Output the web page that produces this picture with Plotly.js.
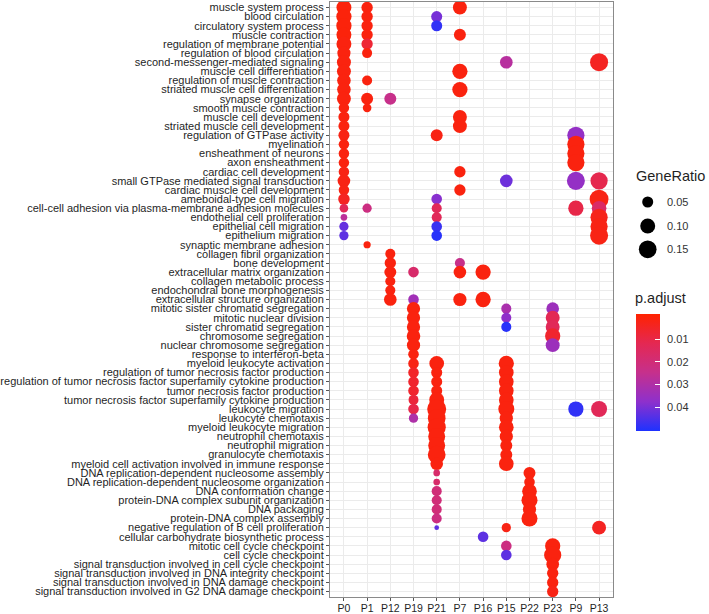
<!DOCTYPE html>
<html><head><meta charset="utf-8">
<script src="https://cdn.plot.ly/plotly-3.0.1.min.js"></script>
<style>html,body{margin:0;padding:0;background:#fff}#chart{width:709px;height:614px}</style>
</head><body><div id="chart"></div>
<script>
const terms = [
"muscle system process","blood circulation","circulatory system process","muscle contraction",
"regulation of membrane potential","regulation of blood circulation","second-messenger-mediated signaling",
"muscle cell differentiation","regulation of muscle contraction","striated muscle cell differentiation",
"synapse organization","smooth muscle contraction","muscle cell development","striated muscle cell development",
"regulation of GTPase activity","myelination","ensheathment of neurons","axon ensheathment",
"cardiac cell development","small GTPase mediated signal transduction","cardiac muscle cell development",
"ameboidal-type cell migration","cell-cell adhesion via plasma-membrane adhesion molecules",
"endothelial cell proliferation","epithelial cell migration","epithelium migration",
"synaptic membrane adhesion","collagen fibril organization","bone development",
"extracellular matrix organization","collagen metabolic process","endochondral bone morphogenesis",
"extracellular structure organization","mitotic sister chromatid segregation","mitotic nuclear division",
"sister chromatid segregation","chromosome segregation","nuclear chromosome segregation",
"response to interferon-beta","myeloid leukocyte activation","regulation of tumor necrosis factor production",
"regulation of tumor necrosis factor superfamily cytokine production","tumor necrosis factor production",
"tumor necrosis factor superfamily cytokine production","leukocyte migration","leukocyte chemotaxis",
"myeloid leukocyte migration","neutrophil chemotaxis","neutrophil migration","granulocyte chemotaxis",
"myeloid cell activation involved in immune response","DNA replication-dependent nucleosome assembly",
"DNA replication-dependent nucleosome organization","DNA conformation change",
"protein-DNA complex subunit organization","DNA packaging","protein-DNA complex assembly",
"negative regulation of B cell proliferation","cellular carbohydrate biosynthetic process",
"mitotic cell cycle checkpoint","cell cycle checkpoint",
"signal transduction involved in cell cycle checkpoint",
"signal transduction involved in DNA integrity checkpoint",
"signal transduction involved in DNA damage checkpoint",
"signal transduction involved in G2 DNA damage checkpoint"
];
const clusters = ["P0","P1","P12","P19","P21","P7","P16","P15","P22","P23","P9","P13"];
const legendRatios = [0.05, 0.10, 0.15];
const padjTicks = [0.01, 0.02, 0.03, 0.04];

// one entry per dot: cluster, term row (1-based), GeneRatio, p.adjust
const dotCluster = [
"P0","P0","P0","P0","P0","P0","P0","P0","P0","P0","P0","P0","P0","P0","P0","P0","P0","P0","P0","P0","P0","P0","P0","P0","P0","P0",
"P1","P1","P1","P1","P1","P1","P1","P1","P1","P1","P1",
"P12","P12","P12","P12","P12","P12","P12",
"P19","P19","P19","P19","P19","P19","P19","P19","P19","P19","P19","P19","P19","P19","P19",
"P21","P21","P21","P21","P21","P21","P21","P21","P21","P21","P21","P21","P21","P21","P21","P21","P21","P21","P21","P21","P21","P21","P21","P21","P21","P21","P21",
"P7","P7","P7","P7","P7","P7","P7","P7","P7","P7","P7",
"P16","P16","P16",
"P15","P15","P15","P15","P15","P15","P15","P15","P15","P15","P15","P15","P15","P15","P15","P15","P15","P15","P15","P15",
"P22","P22","P22","P22","P22","P22",
"P23","P23","P23","P23","P23","P23","P23","P23","P23","P23","P23",
"P9","P9","P9","P9","P9","P9","P9",
"P13","P13","P13","P13","P13","P13","P13","P13","P13"
];
const dotRow = [
1,2,3,4,5,6,7,8,9,10,11,12,13,14,15,16,17,18,19,20,21,22,23,24,25,26,
1,2,3,4,5,6,9,11,12,23,27,
11,28,29,30,31,32,33,
30,33,34,35,36,37,38,39,40,41,42,43,44,45,46,
2,3,15,22,23,24,25,26,40,41,42,43,44,45,46,47,48,49,50,51,52,53,54,55,56,57,58,
1,4,8,10,13,14,19,21,29,30,33,
30,33,59,
7,20,34,35,36,40,41,42,43,44,45,46,47,48,49,50,51,58,60,61,
52,53,54,55,56,57,
34,35,36,37,38,60,61,62,63,64,65,
15,16,17,18,20,23,45,
7,20,22,23,24,25,26,45,58
];
const dotRatio = [
.10,.105,.105,.10,.10,.075,.085,.085,.08,.08,.085,.045,.05,.05,.05,.045,.045,.045,.045,.068,.045,.055,.031,.022,.035,.035,
.053,.053,.053,.053,.053,.041,.041,.06,.031,.035,.024,
.06,.041,.053,.06,.041,.041,.068,
.046,.046,.075,.075,.075,.08,.075,.046,.046,.046,.046,.046,.04,.046,.035,
.05,.05,.06,.046,.041,.041,.046,.046,.096,.05,.05,.05,.10,.177,.15,.16,.135,.135,.15,.068,.022,.022,.041,.041,.041,.041,.019,
.085,.06,.105,.105,.085,.085,.053,.053,.041,.068,.075,
.105,.105,.046,
.068,.068,.041,.041,.041,.105,.096,.096,.096,.096,.118,.075,.096,.075,.06,.06,.096,.035,.046,.046,
.06,.046,.096,.118,.075,.118,
.068,.085,.085,.105,.085,.105,.14,.068,.053,.053,.053,
.14,.14,.14,.14,.156,.105,.105,
.156,.14,.175,.096,.14,.14,.156,.118,.085
];
const dotPadj = [
.0005,.0005,.0005,.0005,.001,.001,.001,.001,.001,.001,.001,.001,.001,.001,.002,.001,.001,.001,.002,.002,.002,.004,.013,.027,.042,.043,
.001,.001,.001,.001,.007,.001,.001,.001,.001,.022,.001,
.024,.001,.001,.001,.001,.001,.001,
.017,.033,.001,.001,.001,.001,.001,.001,.002,.005,.006,.006,.008,.01,.03,
.040,.048,.002,.038,.013,.013,.047,.049,.001,.001,.001,.001,.001,.001,.001,.001,.001,.001,.001,.001,.017,.017,.02,.02,.02,.022,.043,
.001,.001,.001,.001,.001,.001,.001,.001,.024,.001,.001,
.001,.001,.043,
.028,.041,.031,.037,.049,.001,.001,.001,.001,.001,.001,.001,.001,.001,.001,.001,.001,.002,.022,.043,
.001,.001,.001,.001,.001,.001,
.034,.012,.013,.006,.034,.001,.001,.001,.001,.001,.002,
.036,.001,.001,.001,.036,.01,.048,
.004,.011,.002,.016,.003,.002,.002,.013,.004
];

// ---- styling / scales ----
const RMIN = 0.019, RMAX = 0.177, DMIN = 4.7, DMAX = 19;
function dia(v){ return DMIN + (DMAX-DMIN)*Math.sqrt(Math.max(0,(v-RMIN)/(RMAX-RMIN))); }
const PLO = -0.0013, PHI = 0.0502;
const cscale = [[0,'#1E32FF'],[0.25,'#8E30CC'],[0.5,'#C6308C'],[0.75,'#E42852'],[1,'#FF2200']];
const FONT = 'Liberation Sans, Arial, sans-serif';
const TXT = '#1f1f1f';

// legend axis in pixel-like units
const L = {x0: 614.25, x1: 709, y0: 597, y1: 2};
const legendDotX = 647.7, legendDotY = [202, 226, 249.3];

const main = {
  type: 'scatter', mode: 'markers',
  x: dotCluster, y: dotRow.map(r => terms[r-1]),
  hoverinfo: 'skip',
  marker: {
    size: dotRatio.map(dia), opacity: 1, line: {width: 0},
    color: dotPadj.map(p => -p), cmin: -PHI, cmax: -PLO, colorscale: cscale,
    showscale: true,
    colorbar: {
      x: (635.7-330)/379, xanchor: 'left', xpad: 0, ypad: 0,
      y: (597-372)/595, yanchor: 'middle',
      len: 117.4, lenmode: 'pixels', thickness: 23.6, thicknessmode: 'pixels',
      outlinewidth: 0, ticks: 'inside', ticklen: 5, tickcolor: '#ffffff', tickwidth: 1,
      tickvals: padjTicks.map(v => -v), ticktext: padjTicks.map(v => '\u2009\u2009' + v.toFixed(2)),
      tickfont: {family: FONT, size: 11, color: '#333'},
      title: {text: ''}
    }
  }
};
const legendTrace = {
  type: 'scatter', mode: 'markers', xaxis: 'x2', yaxis: 'y2', hoverinfo: 'skip',
  x: legendRatios.map(() => legendDotX), y: legendDotY,
  marker: {size: legendRatios.map(dia), color: '#000000', opacity: 1, line: {width: 0}}
};

const annotations = [
  {xref: 'x2', yref: 'y2', x: 633.5, y: 176, text: 'GeneRatio', showarrow: false, xanchor: 'left', yanchor: 'middle', font: {family: FONT, size: 14.5, color: TXT}},
  {xref: 'x2', yref: 'y2', x: 632.5, y: 298, text: 'p.adjust', showarrow: false, xanchor: 'left', yanchor: 'middle', font: {family: FONT, size: 14.5, color: TXT}}
].concat(legendRatios.map((v, i) => ({
  xref: 'x2', yref: 'y2', x: 664.5, y: legendDotY[i], text: v.toFixed(2), showarrow: false,
  xanchor: 'left', yanchor: 'middle', font: {family: FONT, size: 11, color: '#333'}
})));

const layout = {
  width: 709, height: 614, autosize: false,
  margin: {l: 330, r: 0, t: 2, b: 17, pad: 0},
  paper_bgcolor: '#ffffff', plot_bgcolor: '#ffffff',
  showlegend: false,
  font: {family: FONT, color: TXT},
  xaxis: {
    type: 'category', categoryorder: 'array', categoryarray: clusters,
    tickmode: 'array', tickvals: clusters, ticktext: clusters,
    range: [-0.6, clusters.length - 0.4], domain: [0, 283/379],
    showgrid: true, gridcolor: '#EBEBEB', gridwidth: 1, zeroline: false,
    showline: true, mirror: true, linecolor: '#8a8a8a', linewidth: 1,
    ticks: 'outside', ticklen: 3, tickcolor: '#555', tickwidth: 1, ticklabelstandoff: -2,
    tickfont: {family: FONT, size: 10.5, color: TXT}, automargin: false, fixedrange: true
  },
  yaxis: {
    type: 'category', categoryorder: 'array', categoryarray: terms,
    tickmode: 'array', tickvals: terms, ticktext: terms,
    range: [terms.length - 0.4, -0.6], domain: [0, 1],
    showgrid: true, gridcolor: '#EBEBEB', gridwidth: 1, zeroline: false,
    showline: true, mirror: true, linecolor: '#8a8a8a', linewidth: 1,
    ticks: 'outside', ticklen: 3, tickcolor: '#555', tickwidth: 1,
    tickfont: {family: FONT, size: 11, color: TXT}, automargin: false, fixedrange: true
  },
  xaxis2: {domain: [0.75, 1], range: [L.x0, L.x1], anchor: 'y2', visible: false, fixedrange: true},
  yaxis2: {domain: [0, 1], range: [L.y0, L.y1], anchor: 'x2', visible: false, fixedrange: true},
  annotations: annotations
};

Plotly.newPlot('chart', [main, legendTrace], layout, {displayModeBar: false, staticPlot: true});
</script>
</body></html>
